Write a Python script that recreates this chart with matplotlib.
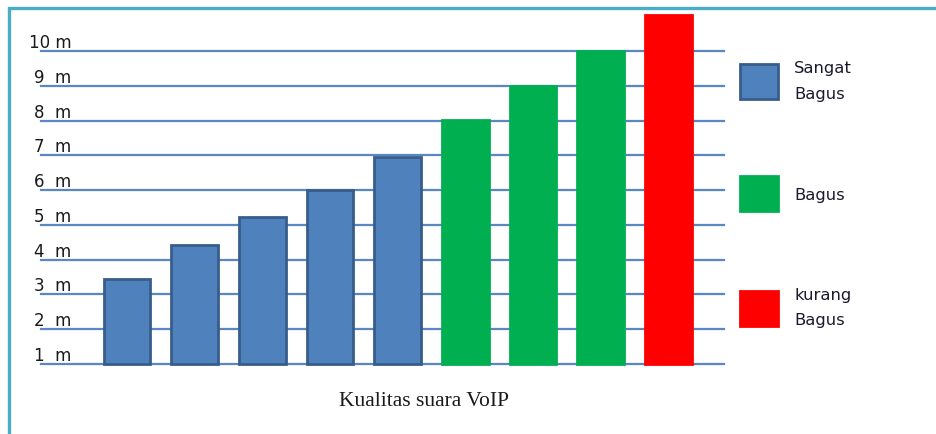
import numpy as np
import matplotlib.pyplot as plt
from matplotlib.patches import Patch, Rectangle

# Data
values = np.array([2.45, 3.42, 4.24, 5.0, 5.96, 7.02, 7.99, 9.0, 10.03])
quality = ['Sangat\nBagus'] * 5 + ['Bagus'] * 3 + ['kurang\nBagus']
groups = ['Sangat\nBagus', 'Bagus', 'kurang\nBagus']
y_labels = ['1  m', '2  m', '3  m', '4  m', '5  m', '6  m', '7  m', '8  m', '9  m', '10 m']

fill = {'Sangat\nBagus': '#4f81bd', 'Bagus': '#00b050', 'kurang\nBagus': '#ff0000'}
edge = {'Sangat\nBagus': '#385d8a', 'Bagus': '#00b050', 'kurang\nBagus': '#ff0000'}

fig = plt.figure(figsize=(9.37, 4.35), dpi=100)
ax = fig.add_axes([41 / 937, 70 / 435, 683 / 937, 354.8 / 435])

x = np.arange(len(values))
quality = np.array(quality)
for g in groups:
    m = quality == g
    ax.bar(x[m], values[m], width=0.69, color=fill[g], edgecolor=edge[g],
           linewidth=2, zorder=3, clip_on=False)

ax.set_xlim(-1.27, 8.82)
ax.set_ylim(0, 10.2)

# gridlines with labels sitting on top of them
ax.set_yticks(range(10))
ax.set_yticklabels(y_labels, va='bottom', fontsize=12, color='#1a1a1a')
ax.tick_params(axis='y', length=0, pad=-22)
ax.set_xticks([])
ax.yaxis.grid(True, color='#5a87c2', linewidth=1.6, zorder=0)
for gl in ax.get_ygridlines():
    gl.set_clip_on(False)
for s in ax.spines.values():
    s.set_visible(False)

ax.set_xlabel('Kualitas suara VoIP', family='Liberation Serif', fontsize=15.5,
              color='#1a1a1a')
ax.xaxis.set_label_coords(0.561, -0.104)
ax.xaxis.label.set_va('center')

# legend
handles = [Patch(facecolor=fill[g], edgecolor=edge[g], linewidth=2) for g in groups]
leg = fig.legend(handles, groups, loc='upper left', bbox_to_anchor=(732 / 937, 1 - 53 / 435),
                 frameon=False, fontsize=11.8, handlelength=2.3, handleheight=2.9,
                 handletextpad=1.0, labelspacing=4.6, borderpad=0, labelcolor='#1a1a2e')
for t in leg.get_texts():
    t.set_linespacing(1.9)

# frame around the picture
fig.patches.append(Rectangle((9 / 937, -0.1), 1.2, 1.1 - 9 / 435, transform=fig.transFigure,
                             fill=False, edgecolor='#4bacc6', linewidth=2.4))

plt.savefig('out.png', dpi=100)
